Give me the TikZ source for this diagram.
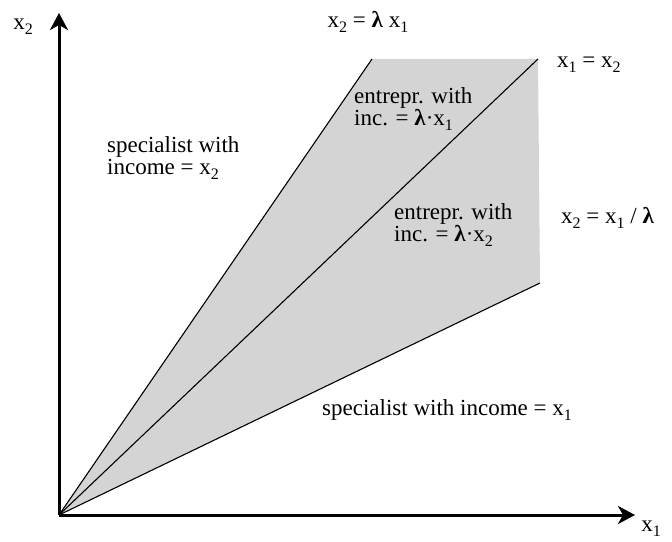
\documentclass[tikz,border=0pt]{standalone}
\usepackage{fontspec}
\setmainfont{Liberation Serif}
\usetikzlibrary{arrows.meta}
\newcommand{\idx}[1]{\raisebox{-0.45ex}{\fontsize{16}{16}\selectfont #1}}

\begin{document}
\begin{tikzpicture}[x=1pt,y=1pt,font=\fontsize{23}{22}\selectfont]
\useasboundingbox (0,0) rectangle (672,541);
\tikzset{axis/.style={line width=3pt,-{Stealth[length=17pt,width=18pt,inset=5pt]}},
  ray/.style={draw=black,line width=1.1pt},
  lbl/.style={align=left,inner sep=0pt}}
% corners of the cone
\coordinate (O) at (59,26);
\coordinate (up) at (372,482);
\coordinate (mid) at (538,482);
\coordinate (low) at (540,258);
\coordinate (ytop) at (59,528);
\coordinate (xend) at (635,26);
\path[fill=black!17] (O) -- (up) -- (mid) -- (low) -- cycle;
\draw[ray] (O) -- (up);
\draw[ray] (O) -- (mid);
\draw[ray] (O) -- (low);
\draw[axis] (O) -- (ytop);
\draw[axis] (O) -- (xend);
% labels
\node[lbl] (ax2) at (23,514) {x\idx{2}};
\node[lbl] (ax1) at (651,12) {x\idx{1}};
\node[lbl] (lup) at (368,519) {x\idx{2} = \textbf{λ} x\idx{1}};
\node[lbl,anchor=west] (lmid) at (557,476) {x\idx{1} = x\idx{2}};
\node[lbl,anchor=west] (llow) at (561,323) {x\idx{2} = x\idx{1} / \textbf{λ}};
\node[lbl,anchor=west] (spec2) at (107,383) {specialist with\\income = x\idx{2}};
\node[lbl,anchor=west] (ent1) at (354,432) {entrepr. with\\inc. = \textbf{λ}·x\idx{1}};
\node[lbl,anchor=west] (ent2) at (394,316) {entrepr. with\\inc. = \textbf{λ}·x\idx{2}};
\node[lbl,anchor=west] (spec1) at (322,131) {specialist with income = x\idx{1}};
\end{tikzpicture}
\end{document}
